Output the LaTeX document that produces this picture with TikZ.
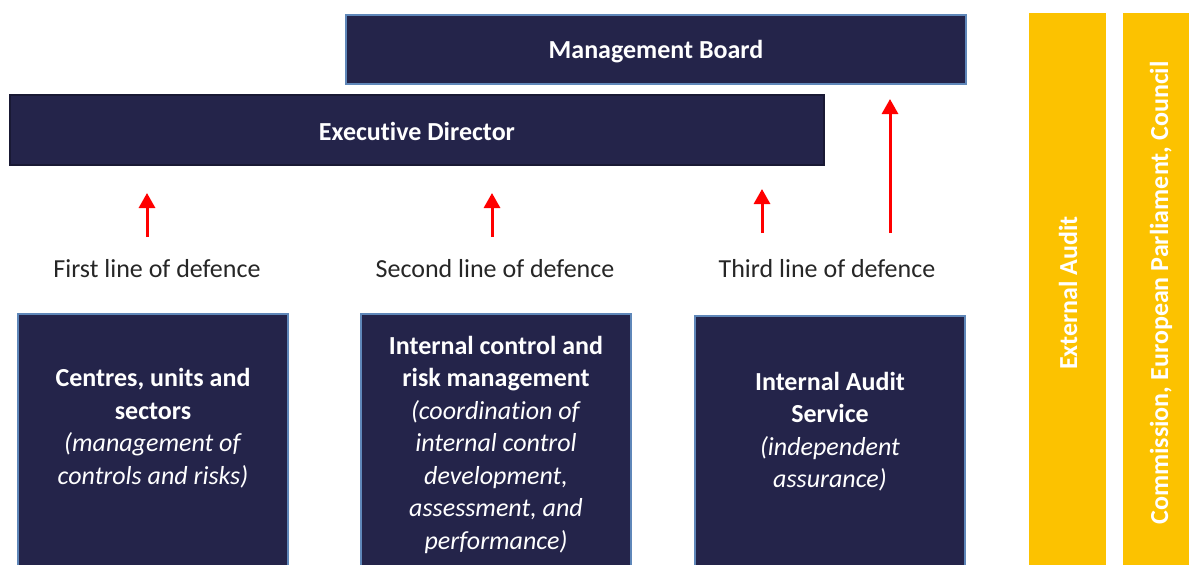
\documentclass[tikz,border=0pt]{standalone}
\usepackage{fontspec}
\setmainfont{Carlito}[Ligatures=NoCommon]
\usetikzlibrary{arrows.meta}
\definecolor{navy}{RGB}{36,36,74}
\definecolor{edge}{RGB}{95,135,185}
\definecolor{gold}{RGB}{252,194,0}
\definecolor{labelgray}{RGB}{38,38,38}
\tikzset{
  darkbox/.style={fill=navy, draw=edge, line width=1.2pt, inner sep=0pt},
  boxtitle/.style={text=white, inner sep=0pt, font=\fontsize{26}{32}\selectfont\bfseries},
  bodytext/.style={text=white, align=center, inner sep=0pt,
    font=\fontsize{26}{32.5}\selectfont},
  yellowbar/.style={fill=gold, draw=none, inner sep=0pt},
  bartext/.style={text=white, rotate=90, inner sep=0pt, font=\fontsize{26}{32}\selectfont\bfseries},
  linelabel/.style={text=labelgray, inner sep=0pt, font=\fontsize{26}{32}\selectfont},
  redarrow/.style={draw=red, line width=3pt, -{Triangle[width=16pt,length=15pt]}}
}
\begin{document}
\begin{tikzpicture}[x=1pt,y=-1pt]
\clip (0,0) rectangle (1189,565);
\fill[white] (0,0) rectangle (1189,565);
% top boxes
\node[darkbox, minimum width=620pt, minimum height=69pt] (mb) at (656,49.5) {};
\node[boxtitle] (mbt) at (656,52) {Management Board};
\node[darkbox, draw=navy!70!black, minimum width=814pt, minimum height=70pt] (ed) at (417,130) {};
\node[boxtitle] (edt) at (417,131.5) {Executive Director};
% bottom boxes
\node[darkbox, minimum width=270pt, minimum height=270pt] (b1) at (153,449) {};
\node[darkbox, minimum width=270pt, minimum height=270pt] (b2) at (496,449) {};
\node[darkbox, minimum width=270pt, minimum height=268pt] (b3) at (830,450) {};
\node[bodytext] (t1) at (153,428) {\textbf{Centres, units and}\\\textbf{sectors}\\\textit{(management of}\\\textit{controls and risks)}};
\node[bodytext] (t2) at (496,444.5) {\textbf{Internal control and}\\\textbf{risk management}\\\textit{(coordination of}\\\textit{internal control}\\\textit{development,}\\\textit{assessment, and}\\\textit{performance)}};
\node[bodytext] (t3) at (830,431.5) {\textbf{Internal Audit}\\\textbf{Service}\\\textit{(independent}\\\textit{assurance)}};
% yellow bars
\node[yellowbar, minimum width=77pt, minimum height=570pt, anchor=north west] (y1) at (1029,13) {};
\node[yellowbar, minimum width=70pt, minimum height=570pt, anchor=north west] (y2) at (1123,13) {};
\node[bartext] (ea) at (1068,293) {External Audit};
\node[bartext] (cep) at (1161,293) {Commission, European Parliament, Council};
% labels
\node[linelabel] (l1) at (157,269) {First line of defence};
\node[linelabel] (l2) at (495,269) {Second line of defence};
\node[linelabel] (l3) at (827,269) {Third line of defence};
% arrows
\coordinate (a1s) at (147,237); \coordinate (a1e) at (147,193);
\coordinate (a2s) at (492,237); \coordinate (a2e) at (492,193);
\coordinate (a3s) at (762,233); \coordinate (a3e) at (762,189);
\coordinate (a4s) at (890,233); \coordinate (a4e) at (890,99);
\draw[redarrow] (a1s) -- (a1e);
\draw[redarrow] (a2s) -- (a2e);
\draw[redarrow] (a3s) -- (a3e);
\draw[redarrow] (a4s) -- (a4e);
\end{tikzpicture}
\end{document}
